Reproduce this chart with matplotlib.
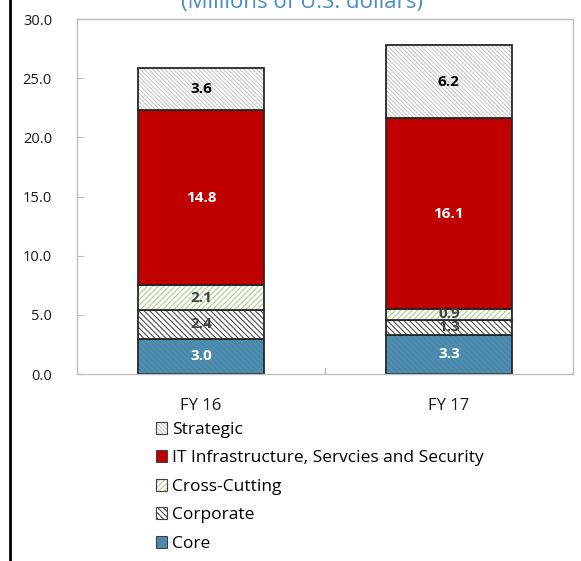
import numpy as np
import matplotlib
matplotlib.use('Agg')
import matplotlib.pyplot as plt
from matplotlib.colors import to_rgba
from matplotlib.lines import Line2D
from matplotlib.patches import Patch

plt.rcParams['font.family'] = ['Open Sans', 'DejaVu Sans']
plt.rcParams['hatch.linewidth'] = 0.8

years = ['FY 16', 'FY 17']
core = [3.0, 3.3]
corporate = [2.4, 1.3]
cross_cutting = [2.1, 0.9]
it_infra = [14.8, 16.1]
strategic = [3.6, 6.2]

# name, values, face, hatch, hatch colour, label colour
series = [
    ('Core', core, '#4A89AC', '\\' * 6, '#5291B3', 'white'),
    ('Corporate', corporate, 'white', '\\' * 6, '#4D4D4D', '#404040'),
    ('Cross-Cutting', cross_cutting, 'white', '/' * 6, '#A9D08E', '#404040'),
    ('IT Infrastructure, Servcies and Security', it_infra, '#C00000', None,
     '#C00000', 'white'),
    ('Strategic', strategic, 'white', '\\' * 8, '#C8C8C8', 'black'),
]

fig = plt.figure(figsize=(5.81, 5.61), dpi=100)
ax = fig.add_axes([0.1325, 0.3333, 0.8535, 0.6328])

x = np.arange(len(years))
width = 0.51
bottom = np.zeros(len(years))
handles = []
for name, vals, face, hatch, hcol, tcol in series:
    vals = np.array(vals)
    ax.bar(x, vals, width, bottom=bottom, color=face, hatch=hatch,
           edgecolor=hcol, linewidth=0)
    ax.bar(x, vals, width, bottom=bottom, fill=False, edgecolor='#262626',
           linewidth=1.3)
    for xi, v, b in zip(x, vals, bottom):
        ax.text(xi, b + v / 2, f'{v:.1f}', ha='center', va='center',
                color=tcol, fontsize=11, fontweight='bold')
    handles.append(Patch(facecolor=face, hatch=hatch, edgecolor=hcol))
    bottom = bottom + vals

ax.set_xlim(-0.5, 1.5)
ax.set_ylim(0, 30)
ax.set_yticks(np.arange(0, 31, 5))
ax.set_yticklabels([f'{t:.1f}' for t in np.arange(0, 31, 5)])
ax.set_xticks(x)
ax.set_xticklabels(years)
ax.tick_params(axis='y', direction='in', length=5, color='#BFBFBF',
               labelsize=10.5, pad=18, labelcolor='#1a1a1a')
ax.tick_params(axis='x', length=0, labelsize=12, pad=17, labelcolor='#1a1a1a')
ax.plot([0.5, 0.5], [0, 0.5], color='#BFBFBF', linewidth=1, clip_on=False)
for s in ax.spines.values():
    s.set_color('#BFBFBF')
    s.set_linewidth(1)

fig.text(0.52, 0.9857, '(Millions of U.S. dollars)', ha='center',
         va='baseline', color='#4A8CC6', fontsize=16)

fig.add_artist(Line2D([10 / 581, 10 / 581], [0, 1], color='black',
                      linewidth=2, transform=fig.transFigure))

leg = fig.legend(handles[::-1], [s[0] for s in series][::-1],
                 loc='upper left', bbox_to_anchor=(0.268, 0.248),
                 frameon=False, fontsize=12.5, handlelength=0.65,
                 handleheight=0.65, handletextpad=0.3, labelspacing=0.72,
                 borderaxespad=0, borderpad=0)
for h, s in zip(leg.legend_handles, series[::-1]):
    h.set_edgecolor('#404040')
    h.set_linewidth(0.8)
    h._hatch_color = to_rgba(s[4])

fig.savefig('out.png', dpi=100)
